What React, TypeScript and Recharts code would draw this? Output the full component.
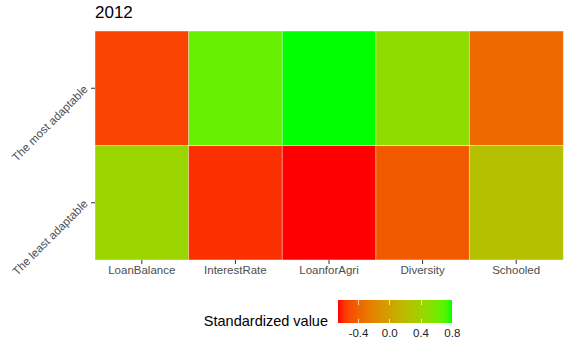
import React from 'react';
import { BarChart, Bar, XAxis, YAxis, Cell } from 'recharts';

const title = '2012';
const categories = ['LoanBalance', 'InterestRate', 'LoanforAgri', 'Diversity', 'Schooled'];
const rowLabels = ['The least adaptable', 'The most adaptable'];
// standardized values per row
const mostValues = [-0.54, 0.65, 0.8, 0.48, -0.38];
const leastValues = [0.42, -0.6, -0.666, -0.45, 0.24];
const legendTicks = [-0.4, 0.0, 0.4, 0.8];
const legendTitle = 'Standardized value';

const font = '"Liberation Sans", Arial, sans-serif';

// ggplot-like gradient: red -> green interpolated in Lab space
const lin = (c: number) => {
  c /= 255;
  return c <= 0.04045 ? c / 12.92 : Math.pow((c + 0.055) / 1.055, 2.4);
};
const gam = (c: number) => {
  c = Math.max(0, Math.min(1, c));
  const v = c <= 0.0031308 ? 12.92 * c : 1.055 * Math.pow(c, 1 / 2.4) - 0.055;
  return Math.round(v * 255);
};
const f = (t: number) => (t > 0.008856 ? Math.cbrt(t) : 7.787 * t + 16 / 116);
const fi = (t: number) => (t * t * t > 0.008856 ? t * t * t : (t - 16 / 116) / 7.787);

function toLab([r, g, b]: number[]) {
  const R = lin(r), G = lin(g), B = lin(b);
  const X = (0.4124 * R + 0.3576 * G + 0.1805 * B) / 0.95047;
  const Y = 0.2126 * R + 0.7152 * G + 0.0722 * B;
  const Z = (0.0193 * R + 0.1192 * G + 0.9505 * B) / 1.08883;
  return [116 * f(Y) - 16, 500 * (f(X) - f(Y)), 200 * (f(Y) - f(Z))];
}
function fromLab([L, a, bb]: number[]) {
  const fy = (L + 16) / 116;
  const X = fi(fy + a / 500) * 0.95047;
  const Y = fi(fy);
  const Z = fi(fy - bb / 200) * 1.08883;
  const r = 3.2406 * X - 1.5372 * Y - 0.4986 * Z;
  const g = -0.9689 * X + 1.8758 * Y + 0.0415 * Z;
  const b = 0.0557 * X - 0.204 * Y + 1.057 * Z;
  return `rgb(${gam(r)},${gam(g)},${gam(b)})`;
}

const lowLab = toLab([255, 0, 0]);
const highLab = toLab([0, 255, 0]);
const allValues = [...mostValues, ...leastValues];
const vMin = Math.min(...allValues);
const vMax = Math.max(...allValues);

function colorFor(v: number) {
  const t = (v - vMin) / (vMax - vMin);
  return fromLab(lowLab.map((l, i) => l + (highLab[i] - l) * t));
}

const data = categories.map((name, i) => ({ name, least: 1, most: 1, mostV: mostValues[i], leastV: leastValues[i] }));

const YTick = ({ x, y, payload }: any) => (
  <g transform={`translate(${x},${y})`}>
    <text
      textAnchor="end"
      transform="rotate(-45)"
      dx={-1.5}
      dy={1}
      fill="#4d4d4d"
      fontSize={11.5}
      fontFamily={font}
    >
      {rowLabels[Math.floor(payload.value)]}
    </text>
  </g>
);

const barLeft = 337.7;
const barWidth = 114.6;
const gradientStops = Array.from({ length: 21 }, (_, i) => {
  const v = vMin + ((vMax - vMin) * i) / 20;
  return `${colorFor(v)} ${i * 5}%`;
}).join(', ');

export default function App() {
  return (
    <div style={{ position: 'absolute', left: 0, top: 0, width: 570, height: 356, background: '#fff', fontFamily: font }}>
      <div style={{ position: 'absolute', left: 95, top: 3, fontSize: 17, color: '#000' }}>{title}</div>
      <BarChart
        width={570}
        height={356}
        data={data}
        margin={{ top: 31, right: 7, left: 0, bottom: 66 }}
        barCategoryGap={0}
      >
        <XAxis
          dataKey="name"
          axisLine={false}
          tickSize={4}
          tickMargin={2}
          tickLine={{ stroke: '#333' }}
          tick={{ fill: '#4d4d4d', fontSize: 11.5, fontFamily: font }}
          interval={0}
          height={30}
        />
        <YAxis
          type="number"
          domain={[0, 2]}
          ticks={[0.5, 1.5]}
          axisLine={false}
          tickSize={4}
          tickMargin={2}
          tickLine={{ stroke: '#333' }}
          tick={<YTick />}
          width={95}
        />
        <Bar dataKey="least" stackId="a" isAnimationActive={false}>
          {data.map((d) => (
            <Cell key={d.name} fill={colorFor(d.leastV)} stroke="rgba(255,255,255,0.45)" strokeWidth={1} />
          ))}
        </Bar>
        <Bar dataKey="most" stackId="a" isAnimationActive={false}>
          {data.map((d) => (
            <Cell key={d.name} fill={colorFor(d.mostV)} stroke="rgba(255,255,255,0.45)" strokeWidth={1} />
          ))}
        </Bar>
      </BarChart>
      <div
        style={{
          position: 'absolute',
          right: 570 - 328,
          top: 313,
          fontSize: 14.5,
          color: '#000',
          whiteSpace: 'nowrap',
        }}
      >
        {legendTitle}
      </div>
      <div
        style={{
          position: 'absolute',
          left: barLeft,
          top: 300,
          width: barWidth,
          height: 23,
          background: `linear-gradient(to right, ${gradientStops})`,
        }}
      >
        {legendTicks.map((t) => {
          const x = ((t - vMin) / (vMax - vMin)) * barWidth;
          return (
            <React.Fragment key={t}>
              <div style={{ position: 'absolute', left: x - 0.5, top: 0, width: 1, height: 4.5, background: 'rgba(255,255,255,0.7)' }} />
              <div style={{ position: 'absolute', left: x - 0.5, bottom: 0, width: 1, height: 4.5, background: 'rgba(255,255,255,0.7)' }} />
            </React.Fragment>
          );
        })}
      </div>
      {legendTicks.map((t) => {
        const x = barLeft + ((t - vMin) / (vMax - vMin)) * barWidth;
        return (
          <div
            key={t}
            style={{
              position: 'absolute',
              left: x - 20,
              width: 40,
              textAlign: 'center',
              top: 327,
              fontSize: 11.5,
              color: '#222',
            }}
          >
            {t.toFixed(1)}
          </div>
        );
      })}
    </div>
  );
}
